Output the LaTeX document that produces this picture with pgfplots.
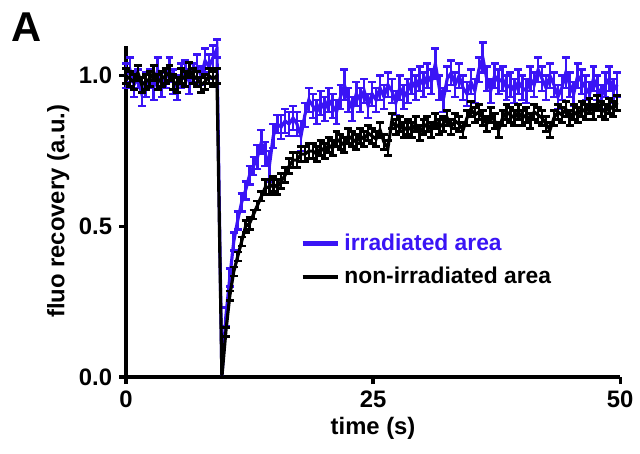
\documentclass[border=0pt]{standalone}
\usepackage{pgfplots}
\pgfplotsset{compat=1.18}
\usepackage{pgfplotstable}
\usepackage{fontspec}
\setmainfont{Liberation Sans}
\definecolor{blueish}{RGB}{58,20,245}

\pgfplotstableread{
x y e
0.0 1.00 0.04
0.4 1.02 0.04
0.8 0.97 0.04
1.2 0.99 0.03
1.6 0.94 0.04
2.0 0.97 0.04
2.4 0.99 0.03
2.8 0.96 0.04
3.2 1.02 0.04
3.6 0.97 0.04
4.0 0.99 0.03
4.4 1.02 0.04
4.8 0.98 0.04
5.2 0.96 0.04
5.6 1.00 0.04
6.0 1.02 0.03
6.4 0.98 0.04
6.8 1.01 0.03
7.2 1.03 0.04
7.6 1.00 0.03
8.0 1.05 0.04
8.4 1.03 0.04
8.8 1.06 0.04
9.2 1.09 0.03
9.7 0.00 0.00
10.1 0.20 0.03
10.5 0.33 0.03
10.9 0.45 0.03
11.3 0.52 0.03
11.7 0.58 0.03
12.1 0.62 0.03
12.5 0.67 0.03
12.9 0.70 0.03
13.3 0.73 0.04
13.7 0.78 0.04
14.1 0.74 0.04
14.5 0.70 0.05
14.9 0.80 0.04
15.3 0.84 0.03
15.7 0.83 0.04
16.1 0.85 0.04
16.5 0.84 0.04
16.9 0.86 0.04
17.3 0.84 0.04
17.7 0.80 0.05
18.1 0.87 0.04
18.5 0.92 0.04
18.9 0.90 0.04
19.3 0.88 0.04
19.7 0.91 0.04
20.1 0.89 0.04
20.5 0.92 0.04
20.9 0.90 0.04
21.3 0.88 0.04
21.7 0.93 0.04
22.1 0.97 0.05
22.5 0.92 0.04
22.9 0.89 0.04
23.3 0.94 0.04
23.7 0.92 0.04
24.1 0.95 0.04
24.5 0.90 0.04
24.9 0.94 0.04
25.3 0.92 0.04
25.7 0.96 0.04
26.1 0.93 0.04
26.5 0.97 0.04
26.9 0.95 0.04
27.3 0.91 0.04
27.7 0.96 0.04
28.1 0.93 0.04
28.5 0.95 0.04
28.9 0.98 0.04
29.3 0.96 0.04
29.7 0.99 0.04
30.1 0.97 0.04
30.5 1.00 0.04
30.9 0.98 0.04
31.3 1.04 0.05
31.7 0.96 0.04
32.1 0.92 0.04
32.5 0.99 0.04
32.9 1.01 0.04
33.3 0.97 0.04
33.7 1.00 0.04
34.1 0.96 0.04
34.5 0.94 0.04
34.9 0.98 0.04
35.3 0.95 0.04
35.7 1.02 0.04
36.1 1.06 0.05
36.5 0.99 0.04
36.9 0.95 0.04
37.3 1.00 0.04
37.7 0.98 0.04
38.1 0.99 0.04
38.5 0.96 0.04
38.9 0.97 0.04
39.3 0.95 0.04
39.7 0.98 0.04
40.1 0.96 0.04
40.5 0.95 0.04
40.9 0.99 0.04
41.3 0.97 0.04
41.7 1.02 0.04
42.1 0.99 0.04
42.5 0.96 0.04
42.9 1.00 0.04
43.3 0.97 0.04
43.7 0.93 0.04
44.1 0.96 0.04
44.5 1.01 0.05
44.9 0.97 0.04
45.3 0.94 0.04
45.7 1.00 0.04
46.1 0.98 0.04
46.5 0.96 0.04
46.9 0.94 0.04
47.3 0.99 0.04
47.7 0.96 0.04
48.1 0.93 0.04
48.5 0.97 0.04
48.9 0.99 0.04
49.3 0.95 0.04
49.7 0.97 0.04
}\irradiated

\pgfplotstableread{
x y e
0.0 1.00 0.025
0.4 0.99 0.025
0.8 0.98 0.025
1.2 1.01 0.025
1.6 0.97 0.025
2.0 0.98 0.025
2.4 0.99 0.025
2.8 1.01 0.025
3.2 0.98 0.025
3.6 0.99 0.025
4.0 1.00 0.025
4.4 1.01 0.025
4.8 0.98 0.025
5.2 0.97 0.025
5.6 1.00 0.025
6.0 0.99 0.025
6.4 1.02 0.025
6.8 1.00 0.025
7.2 0.99 0.025
7.6 0.97 0.025
8.0 0.98 0.025
8.4 1.00 0.025
8.8 0.99 0.025
9.2 1.00 0.025
9.7 0.00 0.00
10.1 0.15 0.015
10.5 0.27 0.015
10.9 0.35 0.015
11.3 0.40 0.015
11.7 0.45 0.015
12.1 0.50 0.02
12.5 0.51 0.02
12.9 0.54 0.015
13.3 0.57 0.015
13.7 0.60 0.015
14.1 0.63 0.025
14.5 0.63 0.025
14.9 0.64 0.025
15.3 0.63 0.025
15.7 0.65 0.025
16.1 0.67 0.025
16.5 0.70 0.025
16.9 0.72 0.025
17.3 0.72 0.025
17.7 0.74 0.025
18.1 0.74 0.025
18.5 0.75 0.025
18.9 0.75 0.025
19.3 0.74 0.025
19.7 0.76 0.025
20.1 0.75 0.025
20.5 0.77 0.025
20.9 0.76 0.025
21.3 0.79 0.025
21.7 0.78 0.025
22.1 0.77 0.025
22.5 0.80 0.025
22.9 0.79 0.025
23.3 0.78 0.025
23.7 0.80 0.025
24.1 0.79 0.025
24.5 0.81 0.025
24.9 0.80 0.025
25.3 0.79 0.025
25.7 0.82 0.025
26.1 0.78 0.025
26.5 0.76 0.025
26.9 0.85 0.025
27.3 0.83 0.025
27.7 0.84 0.025
28.1 0.82 0.025
28.5 0.83 0.025
28.9 0.82 0.025
29.3 0.84 0.025
29.7 0.81 0.025
30.1 0.83 0.025
30.5 0.84 0.025
30.9 0.82 0.025
31.3 0.85 0.025
31.7 0.83 0.025
32.1 0.84 0.025
32.5 0.86 0.025
32.9 0.83 0.025
33.3 0.85 0.025
33.7 0.84 0.025
34.1 0.82 0.025
34.5 0.86 0.025
34.9 0.89 0.025
35.3 0.87 0.025
35.7 0.88 0.025
36.1 0.86 0.025
36.5 0.84 0.025
36.9 0.87 0.025
37.3 0.85 0.025
37.7 0.82 0.025
38.1 0.86 0.025
38.5 0.88 0.025
38.9 0.87 0.025
39.3 0.86 0.025
39.7 0.88 0.025
40.1 0.86 0.025
40.5 0.87 0.025
40.9 0.85 0.025
41.3 0.88 0.025
41.7 0.87 0.025
42.1 0.86 0.025
42.5 0.84 0.025
42.9 0.82 0.025
43.3 0.86 0.025
43.7 0.88 0.025
44.1 0.87 0.025
44.5 0.89 0.025
44.9 0.86 0.025
45.3 0.88 0.025
45.7 0.87 0.025
46.1 0.89 0.025
46.5 0.88 0.025
46.9 0.90 0.025
47.3 0.88 0.025
47.7 0.91 0.025
48.1 0.89 0.025
48.5 0.88 0.025
48.9 0.90 0.025
49.3 0.89 0.025
49.7 0.91 0.025
}\nonirradiated

\begin{document}
\begin{tikzpicture}
\begin{axis}[
  scale only axis,
  width=249pt, height=167pt,
  xmin=0, xmax=50, ymin=0, ymax=1.1,
  axis x line=bottom, axis y line=left,
  axis line style={line width=2pt, -},
  xtick={0,25,50}, xticklabels={0,25,50},
  ytick={0,0.5,1}, yticklabels={0.0,0.5,1.0},
  tick align=outside,
  major tick length=3.5pt,
  tick style={line width=1.6pt, black},
  tick label style={font=\fontsize{12}{14}\selectfont\bfseries},
  xlabel={time (s)}, ylabel={fluo recovery (a.u.)},
  label style={font=\fontsize{12}{14}\selectfont\bfseries},
  xlabel style={yshift=2pt},
  ylabel style={yshift=-2pt},
  clip=false,
  legend style={at={(axis cs:17.6,0.49)}, anchor=north west, draw=none, fill=none,
    font=\fontsize{11.5}{13}\selectfont\bfseries, row sep=3pt, inner sep=0pt},
  legend cell align=left,
  legend image code/.code={\draw[#1] (0pt,0pt) -- (18pt,0pt);},
]
\addplot[forget plot, blueish, line width=1.6pt,
  error bars/.cd, y dir=both, y explicit,
  error bar style={line width=1.3pt},
  error mark options={line width=1.3pt, mark size=2pt, rotate=90}]
  table[x=x, y=y, y error=e] {\irradiated};
\addplot[forget plot, black, line width=1.6pt,
  error bars/.cd, y dir=both, y explicit,
  error bar style={line width=1.3pt},
  error mark options={line width=1.3pt, mark size=2pt, rotate=90}]
  table[x=x, y=y, y error=e] {\nonirradiated};
\addlegendimage{blueish, line width=2.2pt}
\addlegendentry{\textcolor{blueish}{irradiated area}}
\addlegendimage{black, line width=2.2pt}
\addlegendentry{non-irradiated area}
\end{axis}
\node[font=\fontsize{21}{24}\selectfont\bfseries] at ([xshift=-50pt,yshift=9.5pt]current axis.north west) {A};
\path ([xshift=-63.5pt,yshift=-38.5pt]current axis.south west) rectangle ([xshift=7.5pt,yshift=23pt]current axis.north east);
\end{tikzpicture}
\end{document}
